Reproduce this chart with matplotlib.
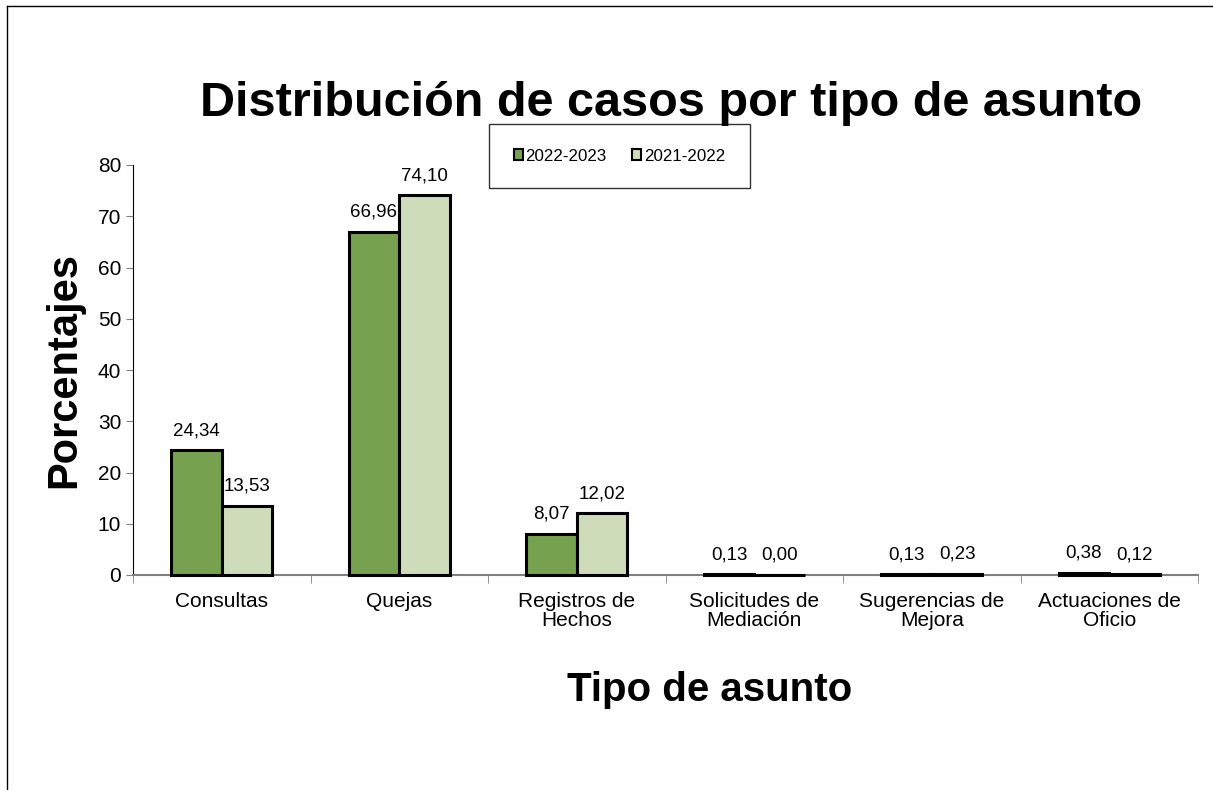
import matplotlib.pyplot as plt
import numpy as np
from matplotlib.lines import Line2D

plt.rcParams['font.family'] = ['Liberation Sans', 'DejaVu Sans']

categories = ["Consultas", "Quejas", "Registros de\nHechos", "Solicitudes de\nMediación",
              "Sugerencias de\nMejora", "Actuaciones de\nOficio"]
series_names = ["2022-2023", "2021-2022"]
values_2223 = [24.34, 66.96, 8.07, 0.13, 0.13, 0.38]
values_2122 = [13.53, 74.10, 12.02, 0.00, 0.23, 0.12]
yticks = [0, 10, 20, 30, 40, 50, 60, 70, 80]

green = "#76a24f"
light = "#cfdcb9"

fig = plt.figure(figsize=(12.13, 7.9), dpi=100)
ax = fig.add_axes([133 / 1213, 1 - 575 / 790, (1198 - 133) / 1213, (575 - 165) / 790])

x = np.arange(len(categories))
w = 0.285
b1 = ax.bar(x - w / 2, values_2223, w, color=green, edgecolor="black", linewidth=2.2,
            label=series_names[0], zorder=3, clip_on=False)
b2 = ax.bar(x + w / 2, values_2122, w, color=light, edgecolor="black", linewidth=2.2,
            label=series_names[1], zorder=3, clip_on=False)

for bars, vals in [(b1, values_2223), (b2, values_2122)]:
    for r, v in zip(bars, vals):
        ax.annotate(f"{v:.2f}".replace(".", ","), (r.get_x() + r.get_width() / 2, v),
                    xytext=(0, 8), textcoords="offset points", ha="center", va="bottom",
                    fontsize=13.5)

ax.set_xlim(-0.5, len(categories) - 0.5)
ax.set_ylim(0, 80)
ax.set_yticks(yticks)
ax.tick_params(axis="y", labelsize=15, length=5, direction="out", color="#808080")
ax.set_xticks(x)
ax.set_xticklabels(categories, fontsize=15, linespacing=1.05)
ax.tick_params(axis="x", length=0, pad=12)
ax.set_xticks(np.arange(len(categories) + 1) - 0.5, minor=True)
ax.tick_params(axis="x", which="minor", length=6, color="#808080")

for s in ["top", "right"]:
    ax.spines[s].set_visible(False)
ax.spines["left"].set_color("black")
ax.spines["bottom"].set_color("#808080")
ax.spines["bottom"].set_linewidth(1.5)

ax.set_ylabel("Porcentajes", fontsize=30, fontweight="bold", labelpad=10)
ax.set_xlabel("Tipo de asunto", fontsize=29, fontweight="bold")
ax.xaxis.set_label_coords((710 - 133) / 1065, -(690 - 575) / 410)
ax.xaxis.label.set_va("center")

fig.text(0.553, 1 - 104 / 790, "Distribución de casos por tipo de asunto", ha="center",
         va="center", fontsize=35, fontweight="bold")

leg = ax.legend(loc="upper left", bbox_to_anchor=((489 - 133) / 1065, (575 - 124) / 410),
                ncol=2, frameon=True, fancybox=False, edgecolor="black", fontsize=12.2,
                handlelength=0.55, handleheight=0.55, handletextpad=0.15, columnspacing=1.5,
                borderpad=1.45, borderaxespad=0)
leg.get_frame().set_linewidth(1)
for h in leg.legend_handles:
    h.set_linewidth(1.5)

fig.add_artist(Line2D([7 / 1213, 1], [1 - 6 / 790] * 2, color="black", lw=1))
fig.add_artist(Line2D([7 / 1213] * 2, [0, 1 - 6 / 790], color="black", lw=1))

fig.savefig("out.png", dpi=100)
